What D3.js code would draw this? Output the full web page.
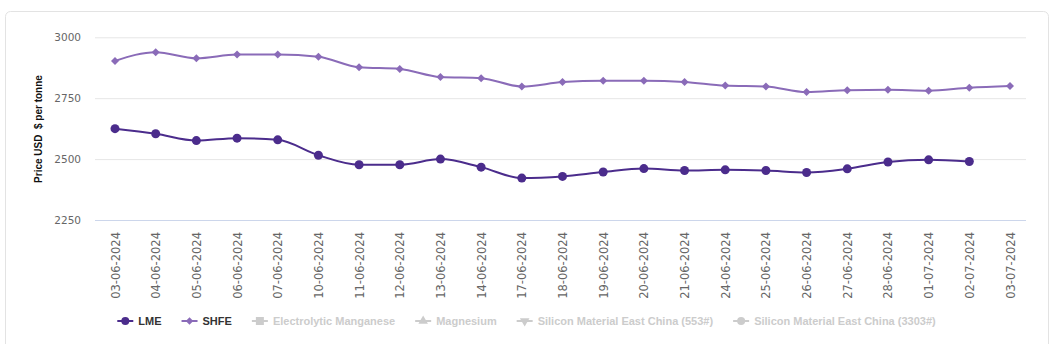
<!DOCTYPE html>
<html><head><meta charset="utf-8">
<script src="https://cdn.jsdelivr.net/npm/d3@7/dist/d3.min.js"></script>
<style>
html,body{margin:0;padding:0;background:#fff;}
svg{display:block;}
</style></head>
<body>
<svg id="chart" width="1054" height="344"></svg>
<script>
const categories = ["03-06-2024","04-06-2024","05-06-2024","06-06-2024","07-06-2024","10-06-2024","11-06-2024","12-06-2024","13-06-2024","14-06-2024","17-06-2024","18-06-2024","19-06-2024","20-06-2024","21-06-2024","24-06-2024","25-06-2024","26-06-2024","27-06-2024","28-06-2024","01-07-2024","02-07-2024","03-07-2024"];
const lmeValues = [2625,2604,2576,2586,2579,2516,2477,2477,2500,2467,2422,2429,2447,2461,2453,2456,2453,2445,2460,2488,2497,2490,null];
const shfeValues = [2903,2939,2914,2929,2929,2920,2877,2870,2837,2832,2798,2816,2822,2822,2817,2802,2798,2775,2783,2785,2781,2793,2800];
const yTicks = [2250,2500,2750,3000];
const legendNames = ["LME","SHFE","Electrolytic Manganese","Magnesium","Silicon Material East China (553#)","Silicon Material East China (3303#)"];
const legendSymbols = ["circle","diamond","square","triangle","triangle-down","circle"];
const legendActive = [true,true,false,false,false,false];
const yTitle = "Price USD  $ per tonne";

const colors = {LME:"#4b2c8c", SHFE:"#8a6bb8"};
const svg = d3.select("#chart");

// card
svg.append("rect").attr("x",5.5).attr("y",11.5).attr("width",1043).attr("height",345)
  .attr("rx",5).attr("fill","#fff").attr("stroke","#e3e3e3").attr("stroke-width",1);

const plotLeft = 95, plotRight = 1026;
const xs = d3.scalePoint().domain(categories).range([115, 1010]);
const y = d3.scaleLinear().domain([2250,3000]).range([220, 37.3]);

// gridlines + y labels
const yAxis = d3.axisLeft(y).tickValues(yTicks).tickSize(-(plotRight-plotLeft)).tickPadding(14).tickFormat(d3.format("d"));
const gy = svg.append("g").attr("transform",`translate(${plotLeft},0)`).call(yAxis);
gy.select(".domain").remove();
gy.selectAll(".tick line").attr("stroke","#e6e6e6");
gy.selectAll(".tick").filter(d=>d===2250).select("line").attr("stroke","#ccd6eb");
gy.selectAll(".tick text").attr("fill","#666").attr("font-family","DejaVu Sans, Verdana, sans-serif").attr("font-size","10.5px").attr("x",-14);

// x axis labels
const xAxis = d3.axisBottom(xs).tickSize(0).tickPadding(0);
const gx = svg.append("g").attr("transform","translate(0,220)").call(xAxis);
gx.select(".domain").remove();
gx.selectAll(".tick text")
  .attr("fill","#666").attr("font-family","DejaVu Sans, Verdana, sans-serif").attr("font-size","11.5px")
  .attr("text-anchor","end").attr("dy",null).attr("y",0)
  .attr("transform","translate(4,12) rotate(-90)");

// y title
svg.append("text").attr("transform","translate(42,129) rotate(-90)")
  .attr("text-anchor","middle").attr("font-family","Liberation Sans, Arial, sans-serif")
  .attr("font-weight","bold").attr("font-size","10px").attr("fill","#111")
  .style("white-space","pre").text(yTitle);

// lines
const line = d3.line().defined(d=>d.v!=null).x(d=>xs(d.c)).y(d=>y(d.v)).curve(d3.curveMonotoneX);
const lmeData = categories.map((c,i)=>({c, v: lmeValues[i]}));
const shfeData = categories.map((c,i)=>({c, v: shfeValues[i]}));

svg.append("path").datum(shfeData).attr("d",line).attr("fill","none").attr("stroke",colors.SHFE).attr("stroke-width",2);
svg.append("path").datum(lmeData).attr("d",line).attr("fill","none").attr("stroke",colors.LME).attr("stroke-width",2);

svg.append("g").selectAll("path").data(shfeData.filter(d=>d.v!=null)).join("path")
  .attr("d", d3.symbol().type(d3.symbolSquare).size(32))
  .attr("transform",d=>`translate(${xs(d.c)},${y(d.v)}) rotate(45)`).attr("fill",colors.SHFE);
svg.append("g").selectAll("circle").data(lmeData.filter(d=>d.v!=null)).join("circle")
  .attr("cx",d=>xs(d.c)).attr("cy",d=>y(d.v)).attr("r",4.5).attr("fill",colors.LME);

// legend
const lg = svg.append("g");
const items = lg.selectAll("g").data(legendNames).join("g");
const symColor = (i)=> legendActive[i] ? (i===0?colors.LME:colors.SHFE) : "#cccccc";
items.each(function(name,i){
  const g = d3.select(this);
  g.append("line").attr("x1",0).attr("x2",16).attr("y1",0).attr("y2",0).attr("stroke",symColor(i)).attr("stroke-width",2);
  const t = legendSymbols[i];
  if (t==="circle") g.append("circle").attr("cx",8).attr("cy",0).attr("r",4).attr("fill",symColor(i));
  else if (t==="diamond") g.append("path").attr("d",d3.symbol().type(d3.symbolSquare).size(28)).attr("transform","translate(8,0) rotate(45)").attr("fill",symColor(i));
  else if (t==="square") g.append("rect").attr("x",4).attr("y",-4).attr("width",8).attr("height",8).attr("fill",symColor(i));
  else if (t==="triangle") g.append("path").attr("d",d3.symbol().type(d3.symbolTriangle).size(40)).attr("transform","translate(8,0)").attr("fill",symColor(i));
  else if (t==="triangle-down") g.append("path").attr("d",d3.symbol().type(d3.symbolTriangle).size(40)).attr("transform","translate(8,0) rotate(180)").attr("fill",symColor(i));
  g.append("text").attr("x",21).attr("y",4).attr("font-family","Liberation Sans, Arial, sans-serif")
   .attr("font-weight","bold").attr("font-size","11px").attr("fill",legendActive[i]?"#333":"#cccccc").text(name);
});
let cx = 0; const pos=[];
items.each(function(name,i){
  const w = 21 + d3.select(this).select("text").node().getComputedTextLength();
  pos.push(cx); cx += w + 20;
});
const total = cx - 20;
const start = 526.5 - total/2;
items.attr("transform",(d,i)=>`translate(${start+pos[i]},321)`);
</script>
</body></html>
